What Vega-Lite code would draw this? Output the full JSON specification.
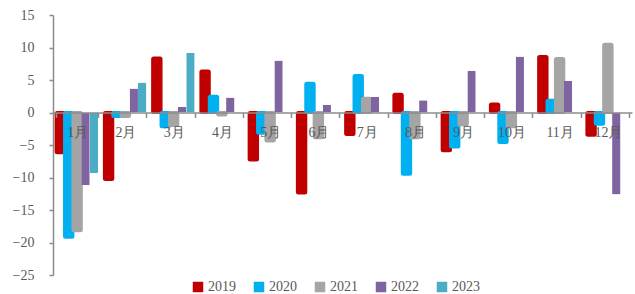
{
  "$schema": "https://vega.github.io/schema/vega-lite/v6.json",
  "width": 579,
  "height": 260,
  "autosize": {"type": "none"},
  "padding": {"left": 53, "top": 15, "right": 3, "bottom": 19},
  "background": "white",
  "config": {"view": {"stroke": null}, "font": "Liberation Serif"},
  "data": {
    "values": [
      {"month": "1月", "year": "2019", "v": -6.2},
      {"month": "1月", "year": "2020", "v": -19.2},
      {"month": "1月", "year": "2021", "v": -18.2},
      {"month": "1月", "year": "2022", "v": -11.2},
      {"month": "1月", "year": "2023", "v": -9.3},
      {"month": "2月", "year": "2019", "v": -10.3},
      {"month": "2月", "year": "2020", "v": -0.6},
      {"month": "2月", "year": "2021", "v": -0.6},
      {"month": "2月", "year": "2022", "v": 3.7},
      {"month": "2月", "year": "2023", "v": 4.6},
      {"month": "3月", "year": "2019", "v": 8.4},
      {"month": "3月", "year": "2020", "v": -2.2},
      {"month": "3月", "year": "2021", "v": -2.0},
      {"month": "3月", "year": "2022", "v": 0.9},
      {"month": "3月", "year": "2023", "v": 9.2},
      {"month": "4月", "year": "2019", "v": 6.4},
      {"month": "4月", "year": "2020", "v": 2.5},
      {"month": "4月", "year": "2021", "v": -0.4},
      {"month": "4月", "year": "2022", "v": 2.3},
      {"month": "5月", "year": "2019", "v": -7.3},
      {"month": "5月", "year": "2020", "v": -3.2},
      {"month": "5月", "year": "2021", "v": -4.4},
      {"month": "5月", "year": "2022", "v": 8.0},
      {"month": "6月", "year": "2019", "v": -12.4},
      {"month": "6月", "year": "2020", "v": 4.5},
      {"month": "6月", "year": "2021", "v": -3.9},
      {"month": "6月", "year": "2022", "v": 1.2},
      {"month": "7月", "year": "2019", "v": -3.4},
      {"month": "7月", "year": "2020", "v": 5.7},
      {"month": "7月", "year": "2021", "v": 2.2},
      {"month": "7月", "year": "2022", "v": 2.4},
      {"month": "8月", "year": "2019", "v": 2.8},
      {"month": "8月", "year": "2020", "v": -9.5},
      {"month": "8月", "year": "2021", "v": -3.9},
      {"month": "8月", "year": "2022", "v": 1.9},
      {"month": "9月", "year": "2019", "v": -5.9},
      {"month": "9月", "year": "2020", "v": -5.3},
      {"month": "9月", "year": "2021", "v": -1.9},
      {"month": "9月", "year": "2022", "v": 6.4},
      {"month": "10月", "year": "2019", "v": 1.3},
      {"month": "10月", "year": "2020", "v": -4.6},
      {"month": "10月", "year": "2021", "v": -2.2},
      {"month": "10月", "year": "2022", "v": 8.6},
      {"month": "11月", "year": "2019", "v": 8.6},
      {"month": "11月", "year": "2020", "v": 1.9},
      {"month": "11月", "year": "2021", "v": 8.3},
      {"month": "11月", "year": "2022", "v": 4.9},
      {"month": "12月", "year": "2019", "v": -3.5},
      {"month": "12月", "year": "2020", "v": -1.8},
      {"month": "12月", "year": "2021", "v": 10.5},
      {"month": "12月", "year": "2022", "v": -12.6}
    ]
  },
  "mark": {"type": "bar", "strokeJoin": "round", "cornerRadius": 1},
  "encoding": {
    "x": {
      "field": "month",
      "type": "nominal",
      "sort": ["1月","2月","3月","4月","5月","6月","7月","8月","9月","10月","11月","12月"],
      "scale": {"paddingInner": 0.13, "paddingOuter": 0.065},
      "axis": {
        "title": null,
        "labelAngle": 0,
        "offset": -162.5,
        "zindex": 1,
        "domainColor": "#8c8c8c",
        "domainWidth": 1.5,
        "tickColor": "#8c8c8c",
        "tickWidth": 1.5,
        "tickSize": 5,
        "tickBand": "extent",
        "labelFontSize": 14,
        "labelColor": "#595959",
        "labelFont": "Liberation Serif",
        "labelPadding": 8
      }
    },
    "xOffset": {
      "field": "year",
      "type": "nominal",
      "sort": ["2019","2020","2021","2022","2023"]
    },
    "y": {
      "field": "v",
      "type": "quantitative",
      "scale": {"domain": [-25, 15], "nice": false, "zero": false},
      "axis": {
        "title": null,
        "values": [-25, -20, -15, -10, -5, 0, 5, 10, 15],
        "grid": false,
        "domainColor": "#8c8c8c",
        "domainWidth": 1.5,
        "tickColor": "#8c8c8c",
        "tickWidth": 1.5,
        "tickSize": 4,
        "labelFontSize": 14,
        "labelColor": "#595959",
        "labelFont": "Liberation Serif",
        "labelPadding": 15
      }
    },
    "color": {
      "field": "year",
      "type": "nominal",
      "sort": ["2019","2020","2021","2022","2023"],
      "scale": {
        "domain": ["2019","2020","2021","2022","2023"],
        "range": ["#C00000","#00B0F0","#A5A5A5","#8064A2","#4BACC6"]
      },
      "legend": {
        "title": null,
        "orient": "none",
        "direction": "horizontal",
        "legendX": 138,
        "legendY": 265,
        "symbolType": "square",
        "symbolSize": 110,
        "symbolStrokeWidth": 0,
        "labelFontSize": 14,
        "labelColor": "#595959",
        "labelFont": "Liberation Serif",
        "labelOffset": 3,
        "columnPadding": 16
      }
    },
    "stroke": {
      "field": "year",
      "type": "nominal",
      "scale": {
        "domain": ["2019","2020","2021","2022","2023"],
        "range": ["#C00000","#00B0F0","#A5A5A5","#8064A2","#4BACC6"]
      },
      "legend": null
    },
    "strokeWidth": {
      "condition": {"test": "toNumber(datum.year) <= 2021", "value": 3},
      "value": 0
    }
  }
}
